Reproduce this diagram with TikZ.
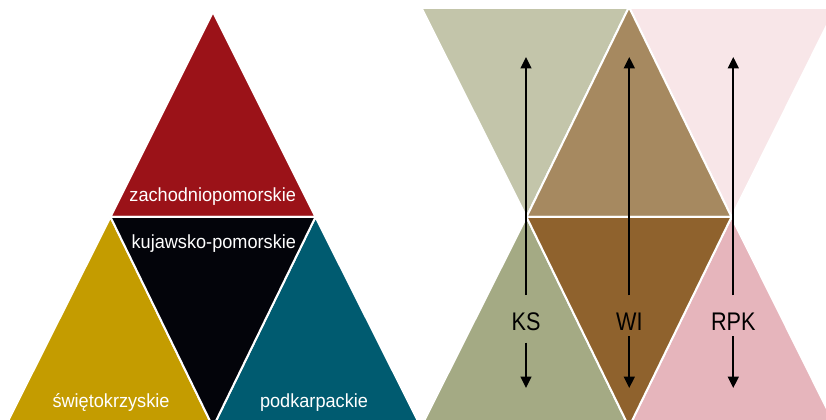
\documentclass[tikz,border=0pt]{standalone}
\usepackage{fontspec}
\setmainfont{Liberation Sans}
\newfontfamily\regionfont[FakeStretch=0.955]{Liberation Sans}
\newfontfamily\tagfont[FakeStretch=0.85]{Liberation Sans}
\usetikzlibrary{arrows.meta}

% pyramid of regions
\definecolor{zpred}{HTML}{9B1218}
\definecolor{kpblack}{HTML}{03040A}
\definecolor{swgold}{HTML}{C49C00}
\definecolor{pkteal}{HTML}{005B70}
% hourglass of indicators
\definecolor{kstop}{HTML}{C3C5AA}
\definecolor{ksbot}{HTML}{A4AA84}
\definecolor{witop}{HTML}{A68960}
\definecolor{wibot}{HTML}{8F622D}
\definecolor{rpktop}{HTML}{F8E6E8}
\definecolor{rpkbot}{HTML}{E6B5BC}

\begin{document}
\begin{tikzpicture}[x=0.75pt,y=-0.75pt,
  piece/.style={draw=white,line width=1.5pt,line join=round},
  region/.style={font=\regionfont\fontsize{14.25}{14.25}\selectfont,text=white,
    anchor=base,inner sep=0pt},
  tag/.style={font=\tagfont\fontsize{19.1}{19.1}\selectfont,text=black,
    anchor=base,inner sep=0pt},
  arrow/.style={draw=black,line width=1.5pt,-{Triangle[length=8.5pt,width=8pt]}}]
\useasboundingbox (0,0) rectangle (826,420);
\clip (0,0) rectangle (826,420);

% left: triangle split into four regions
\path[piece,fill=zpred]   (213,12) -- (110.5,217) -- (315.5,217) -- cycle;
\path[piece,fill=swgold]  (110.5,217) -- (5,427) -- (213,427) -- cycle;
\path[piece,fill=pkteal]  (315.5,217) -- (213,427) -- (421,427) -- cycle;
\path[piece,fill=kpblack] (110.5,217) -- (315.5,217) -- (213,427) -- cycle;

\node[region] (zp) at (212.7,201.7) {zachodniopomorskie};
\node[region] (kp) at (213.8,249)   {kujawsko-pomorskie};
\node[region] (sw) at (111,407.7)   {świętokrzyskie};
\node[region] (pk) at (314,407.7)   {podkarpackie};

% right: hourglasses around a central diamond
\begin{scope}
\clip (410,10) rectangle (826,420);
\path[piece,fill=kstop]  (526.5,217) -- (421,7) -- (629,7) -- cycle;
\path[piece,fill=rpktop] (731.5,217) -- (629,7) -- (836,7) -- cycle;
\path[piece,fill=ksbot]  (526.5,217) -- (421,427) -- (629,427) -- cycle;
\path[piece,fill=rpkbot] (731.5,217) -- (629,427) -- (836,427) -- cycle;
\path[piece,fill=witop]  (629,7) -- (526.5,217) -- (731.5,217) -- cycle;
\path[piece,fill=wibot]  (526.5,217) -- (731.5,217) -- (629,427) -- cycle;
\end{scope}

\node[tag] (ks)  at (526,331)   {KS};
\node[tag] (wi)  at (629.3,331) {WI};
\node[tag] (rpk) at (733.3,331) {RPK};

\coordinate (ks-up)  at (526,57);
\coordinate (ks-dn)  at (526,388);
\coordinate (wi-up)  at (629.3,57);
\coordinate (wi-dn)  at (629.3,388);
\coordinate (rpk-up) at (733.3,57);
\coordinate (rpk-dn) at (733.3,388);

\draw[arrow,shorten <=13.3pt] (ks)  -- (ks-up);
\draw[arrow,shorten <=13.3pt] (wi)  -- (wi-up);
\draw[arrow,shorten <=13.3pt] (rpk) -- (rpk-up);
\draw[arrow,shorten <=8.25pt] (ks)  -- (ks-dn);
\draw[arrow,shorten <=3.75pt] (wi)  -- (wi-dn);
\draw[arrow,shorten <=3.75pt] (rpk) -- (rpk-dn);
\end{tikzpicture}
\end{document}
